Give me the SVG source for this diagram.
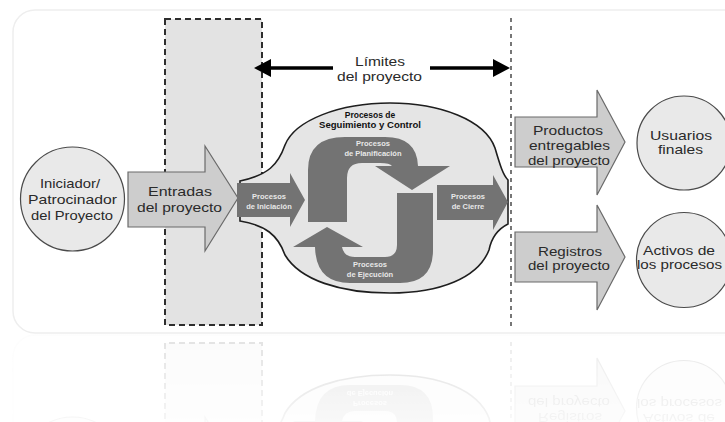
<svg xmlns="http://www.w3.org/2000/svg" xmlns:xlink="http://www.w3.org/1999/xlink" width="725" height="422" viewBox="0 0 725 422">
<style>
.lbl{font-family:"Liberation Sans",Arial,sans-serif;font-size:13px;fill:#2a2a2a;text-anchor:middle}
.sm{font-family:"Liberation Sans",Arial,sans-serif;font-size:7.5px;font-weight:bold;fill:#e8e8e8;text-anchor:middle}
.smd{font-family:"Liberation Sans",Arial,sans-serif;font-size:8.5px;font-weight:bold;fill:#111;text-anchor:middle}
.circ{fill:#e9e9e9;stroke:#4a4a4a;stroke-width:1.2}
.big{fill:#cdcdcd;stroke:#6a6a6a;stroke-width:1.2}
.dark{fill:#737373}
</style>
<defs>
<linearGradient id="fg" x1="0" y1="0" x2="0" y2="1">
<stop offset="0" stop-color="#fff" stop-opacity="0.14"/>
<stop offset="1" stop-color="#fff" stop-opacity="0.05"/>
</linearGradient>
<mask id="fade" maskUnits="userSpaceOnUse" x="0" y="334" width="725" height="88">
<rect x="0" y="334" width="725" height="88" fill="url(#fg)"/>
</mask>
</defs>
<rect width="725" height="422" fill="#fff"/>
<g id="main">
<rect x="13" y="10" width="740" height="323" rx="22" fill="#fff" stroke="#eeeeee" stroke-width="1.5"/>
<g id="boundary-inputs">
<rect x="165" y="19" width="97" height="306" fill="#e3e3e3" stroke="#2e2e2e" stroke-width="2" stroke-dasharray="6 4"/>
</g>
<g id="boundary-right">
<line x1="511" y1="18" x2="511" y2="326" stroke="#555" stroke-width="1.6" stroke-dasharray="4 4"/>
</g>
<g id="connectors">
<line x1="266" y1="68" x2="333" y2="68" stroke="#000" stroke-width="3.5"/>
<polygon points="254,68 271,59 271,77" fill="#000"/>
<line x1="430" y1="68" x2="498" y2="68" stroke="#000" stroke-width="3.5"/>
<polygon points="510,68 493,59 493,77" fill="#000"/>
</g>
<g id="limites">
<text class="lbl" x="380" y="65.5" textLength="50" lengthAdjust="spacingAndGlyphs">Límites</text>
<text class="lbl" x="379.5" y="80.5" textLength="85" lengthAdjust="spacingAndGlyphs">del proyecto</text>
</g>
<g id="iniciador">
<circle class="circ" cx="72.5" cy="199" r="52"/>
<text class="lbl" x="70" y="188" textLength="60" lengthAdjust="spacingAndGlyphs">Iniciador/</text>
<text class="lbl" x="72.5" y="204" textLength="89" lengthAdjust="spacingAndGlyphs">Patrocinador</text>
<text class="lbl" x="72" y="220" textLength="82" lengthAdjust="spacingAndGlyphs">del Proyecto</text>
</g>
<g id="entradas">
<polygon class="big" points="128,172 205,172 205,146 238,198 205,251 205,227 128,227"/>
<text class="lbl" x="180" y="196" textLength="64" lengthAdjust="spacingAndGlyphs">Entradas</text>
<text class="lbl" x="179.5" y="212" textLength="85" lengthAdjust="spacingAndGlyphs">del proyecto</text>
</g>
<g id="procesos">
<path d="M390 103 C440 103 485 120 495 148 C500 165 503 175 508 180 L508 224 C500 228 492 235 489 250 C478 278 440 293 390 293 C340 293 300 280 285 255 C278 235 265 225 240 221 L240 181 C268 175 278 165 285 145 C295 120 340 103 390 103 Z" fill="#e5e5e5" stroke="#1e1e1e" stroke-width="1.6"/>
<text class="smd" x="370" y="118">Procesos de</text>
<text class="smd" x="370" y="128" textLength="102" lengthAdjust="spacingAndGlyphs">Seguimiento y Control</text>
</g>
<g id="iniciacion">
<polygon class="dark" points="237,183 290,183 290,173 305,200 290,227 290,217 237,217"/>
<text class="sm" x="269" y="199">Procesos</text>
<text class="sm" x="269" y="209">de Iniciación</text>
</g>
<g id="planificacion">
<path class="dark" d="M308 222 L308 170 Q308 137 345 137 L385 137 Q417 137 418 166 L450 166 L412 190 L375 166 L392 166 Q390 163 380 163 L362 163 Q347 163 347 178 L347 222 Z"/>
<text class="sm" x="373" y="146">Procesos</text>
<text class="sm" x="373" y="156">de Planificación</text>
</g>
<g id="ejecucion">
<path class="dark" d="M433 193 L433 250 Q433 283 400 283 L350 283 Q316 283 315 247 L293 247 L327 227 L363 247 L342 247 Q344 257 355 257 L385 257 Q397 257 397 245 L397 193 Z"/>
<text class="sm" x="370" y="267">Procesos</text>
<text class="sm" x="370" y="277">de Ejecución</text>
</g>
<g id="cierre">
<polygon class="dark" points="437,185 493,185 493,175 508,202 493,230 493,220 437,220"/>
<text class="sm" x="468" y="199">Procesos</text>
<text class="sm" x="468" y="209">de Cierre</text>
</g>
<g id="productos">
<polygon class="big" points="515,117 597,117 597,90 625,142 597,195 597,167 515,167"/>
<text class="lbl" x="568" y="135" textLength="70" lengthAdjust="spacingAndGlyphs">Productos</text>
<text class="lbl" x="569.5" y="150" textLength="81" lengthAdjust="spacingAndGlyphs">entregables</text>
<text class="lbl" x="569" y="165" textLength="82" lengthAdjust="spacingAndGlyphs">del proyecto</text>
</g>
<g id="registros">
<polygon class="big" points="515,232 597,232 597,205 625,257 597,310 597,282 515,282"/>
<text class="lbl" x="570" y="255.5" textLength="64" lengthAdjust="spacingAndGlyphs">Registros</text>
<text class="lbl" x="569" y="270" textLength="82" lengthAdjust="spacingAndGlyphs">del proyecto</text>
</g>
<g id="usuarios">
<circle class="circ" cx="684" cy="143" r="47"/>
<text class="lbl" x="681" y="140" textLength="62" lengthAdjust="spacingAndGlyphs">Usuarios</text>
<text class="lbl" x="680.5" y="154" textLength="45" lengthAdjust="spacingAndGlyphs">finales</text>
</g>
<g id="activos">
<circle class="circ" cx="684" cy="260" r="47.5"/>
<text class="lbl" x="679" y="254.5" textLength="72" lengthAdjust="spacingAndGlyphs">Activos de</text>
<text class="lbl" x="679.5" y="269" textLength="85" lengthAdjust="spacingAndGlyphs">los procesos</text>
</g>
</g>
<g id="reflection" mask="url(#fade)">
<use xlink:href="#main" transform="translate(0,668) scale(1,-1)"/>
</g>
</svg>
